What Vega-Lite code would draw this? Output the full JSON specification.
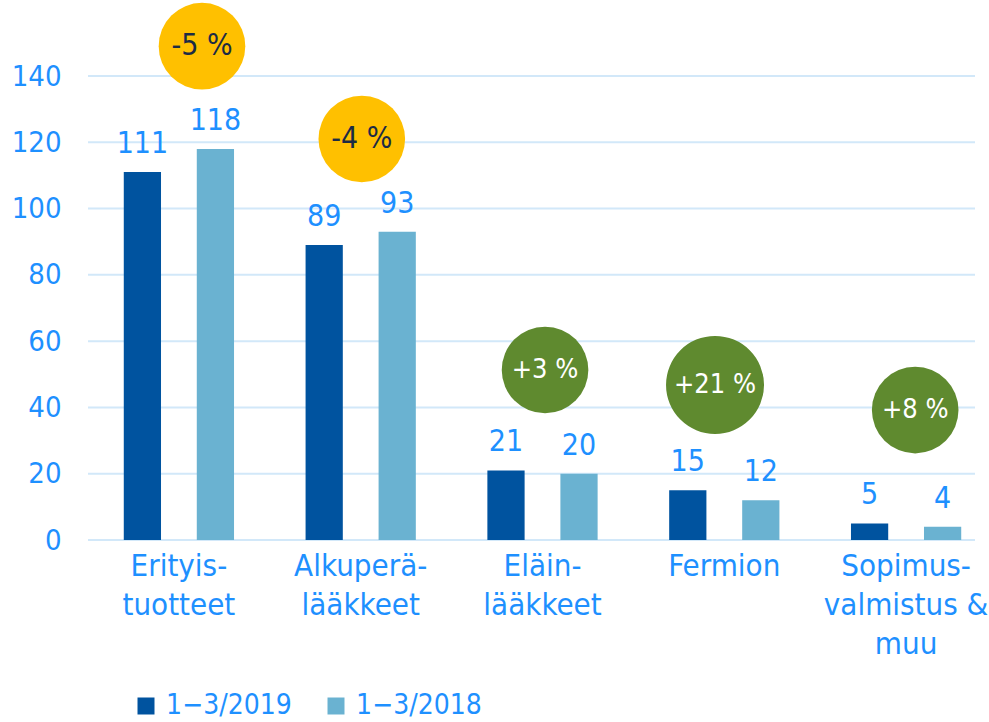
{
  "$schema": "https://vega.github.io/schema/vega-lite/v6.json",
  "width": 887,
  "height": 464,
  "autosize": {"type": "none"},
  "padding": {"left": 88, "top": 76, "right": 14, "bottom": 182},
  "background": "white",
  "config": {
    "view": {"stroke": null},
    "font": "DejaVu Sans Condensed, DejaVu Sans",
    "axisY": {"title": null, "grid": false, "domain": false, "ticks": false, "labelFontSize": 29, "labelColor": "#1E90FF", "labelPadding": 27},
    "axisX": {"title": null, "domain": false, "ticks": false, "grid": false, "labelFontSize": 31, "labelColor": "#1E90FF", "labelPadding": 11, "labelLineHeight": 39, "labelAngle": 0, "labelBaseline": "top", "labelExpr": "split(datum.label, '|')"}
  },
  "datasets": {
    "bars": [
      {"category": "Erityis-|tuotteet", "series": "1−3/2019", "value": 111},
      {"category": "Erityis-|tuotteet", "series": "1−3/2018", "value": 118},
      {"category": "Alkuperä-|lääkkeet", "series": "1−3/2019", "value": 89},
      {"category": "Alkuperä-|lääkkeet", "series": "1−3/2018", "value": 93},
      {"category": "Eläin-|lääkkeet", "series": "1−3/2019", "value": 21},
      {"category": "Eläin-|lääkkeet", "series": "1−3/2018", "value": 20},
      {"category": "Fermion", "series": "1−3/2019", "value": 15},
      {"category": "Fermion", "series": "1−3/2018", "value": 12},
      {"category": "Sopimus-|valmistus &|muu", "series": "1−3/2019", "value": 5},
      {"category": "Sopimus-|valmistus &|muu", "series": "1−3/2018", "value": 4}
    ],
    "badges": [
      {"category": "Erityis-|tuotteet", "label": "-5 %", "change": "neg", "level": 149, "pos": 0.627},
      {"category": "Alkuperä-|lääkkeet", "label": "-4 %", "change": "neg", "level": 121, "pos": 0.506},
      {"category": "Eläin-|lääkkeet", "label": "+3 %", "change": "pos", "level": 51.3, "pos": 0.514},
      {"category": "Fermion", "label": "+21 %", "change": "pos", "level": 46.8, "pos": 0.449},
      {"category": "Sopimus-|valmistus &|muu", "label": "+8 %", "change": "pos", "level": 39.2, "pos": 0.55}
    ],
    "grid": [{"v": 0}, {"v": 20}, {"v": 40}, {"v": 60}, {"v": 80}, {"v": 100}, {"v": 120}, {"v": 140}]
  },
  "resolve": {"scale": {"xOffset": "independent"}},
  "layer": [
    {
      "data": {"name": "grid"},
      "mark": {"type": "rule", "color": "#D2E8F9", "strokeWidth": 2},
      "encoding": {
        "y": {"field": "v", "type": "quantitative", "title": null, "scale": {"domain": [0, 140], "nice": false}, "axis": {"values": [0, 20, 40, 60, 80, 100, 120, 140]}}
      }
    },
    {
      "data": {"name": "bars"},
      "mark": {"type": "bar"},
      "encoding": {
        "x": {"field": "category", "type": "nominal", "title": null, "scale": {"domain": ["Erityis-|tuotteet", "Alkuperä-|lääkkeet", "Eläin-|lääkkeet", "Fermion", "Sopimus-|valmistus &|muu"], "range": [0, 909], "paddingInner": 0, "paddingOuter": 0}},
        "xOffset": {"field": "series", "type": "nominal", "scale": {"type": "band", "domain": ["1−3/2019", "1−3/2018"], "paddingInner": 0.49, "paddingOuter": 0.49}},
        "y": {"field": "value", "type": "quantitative", "title": null, "scale": {"domain": [0, 140], "nice": false}, "axis": {"values": [0, 20, 40, 60, 80, 100, 120, 140]}},
        "color": {
          "field": "series", "type": "nominal",
          "scale": {"domain": ["1−3/2019", "1−3/2018"], "range": ["#00539F", "#6AB2D1"]},
          "legend": {"title": null, "orient": "none", "legendX": 44, "legendY": 616, "direction": "horizontal", "symbolType": "square", "symbolSize": 289, "symbolStrokeWidth": 0, "labelFontSize": 28, "labelColor": "#1E90FF", "labelOffset": 6, "columnPadding": 30, "padding": 0, "labelLimit": 300}
        }
      }
    },
    {
      "data": {"name": "bars"},
      "mark": {"type": "text", "baseline": "alphabetic", "dy": -19, "fontSize": 30, "color": "#1E90FF"},
      "encoding": {
        "x": {"field": "category", "type": "nominal", "title": null, "scale": {"domain": ["Erityis-|tuotteet", "Alkuperä-|lääkkeet", "Eläin-|lääkkeet", "Fermion", "Sopimus-|valmistus &|muu"], "range": [0, 909], "paddingInner": 0, "paddingOuter": 0}},
        "xOffset": {"field": "series", "type": "nominal", "scale": {"type": "band", "domain": ["1−3/2019", "1−3/2018"], "paddingInner": 0.49, "paddingOuter": 0.49}},
        "y": {"field": "value", "type": "quantitative", "title": null, "scale": {"domain": [0, 140], "nice": false}, "axis": {"values": [0, 20, 40, 60, 80, 100, 120, 140]}},
        "text": {"field": "value", "type": "quantitative"}
      }
    },
    {
      "data": {"name": "badges"},
      "mark": {"type": "point", "shape": "circle", "filled": true, "opacity": 1},
      "encoding": {
        "x": {"field": "category", "type": "nominal", "title": null, "scale": {"domain": ["Erityis-|tuotteet", "Alkuperä-|lääkkeet", "Eläin-|lääkkeet", "Fermion", "Sopimus-|valmistus &|muu"], "range": [0, 909], "paddingInner": 0, "paddingOuter": 0}},
        "xOffset": {"field": "pos", "type": "quantitative", "scale": {"domain": [0, 1], "range": [0, 181.8]}},
        "y": {"field": "level", "type": "quantitative", "title": null, "scale": {"domain": [0, 140], "nice": false}, "axis": {"values": [0, 20, 40, 60, 80, 100, 120, 140]}},
        "fill": {"condition": {"test": "datum.change === 'neg'", "value": "#FFC000"}, "value": "#5F8A2F"},
        "size": {"condition": {"test": "length(datum.label) > 4", "value": 9600}, "value": 7500}
      }
    },
    {
      "data": {"name": "badges"},
      "mark": {"type": "text", "baseline": "middle", "align": "center"},
      "encoding": {
        "x": {"field": "category", "type": "nominal", "title": null, "scale": {"domain": ["Erityis-|tuotteet", "Alkuperä-|lääkkeet", "Eläin-|lääkkeet", "Fermion", "Sopimus-|valmistus &|muu"], "range": [0, 909], "paddingInner": 0, "paddingOuter": 0}},
        "xOffset": {"field": "pos", "type": "quantitative", "scale": {"domain": [0, 1], "range": [0, 181.8]}},
        "y": {"field": "level", "type": "quantitative", "title": null, "scale": {"domain": [0, 140], "nice": false}, "axis": {"values": [0, 20, 40, 60, 80, 100, 120, 140]}},
        "text": {"field": "label", "type": "nominal"},
        "size": {"condition": {"test": "datum.change === 'neg'", "value": 30}, "value": 27},
        "color": {"condition": {"test": "datum.change === 'neg'", "value": "#1C2B45"}, "value": "#FFFFFF"}
      }
    }
  ]
}
